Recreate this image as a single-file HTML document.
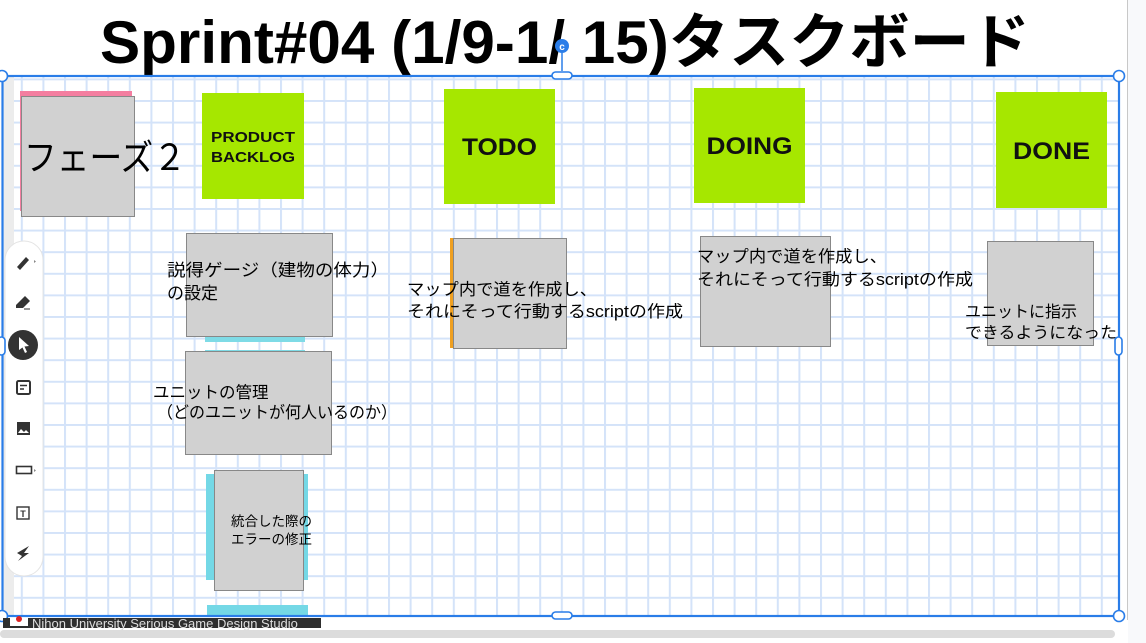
<!DOCTYPE html>
<html><head><meta charset="utf-8"><style>
html,body{margin:0;padding:0;background:#fff;overflow:hidden}
svg{display:block}
text{font-family:"Liberation Sans","Noto Sans CJK JP",sans-serif}
</style></head><body>
<svg width="1146" height="643" viewBox="0 0 1146 643" xmlns="http://www.w3.org/2000/svg">
<defs>
<pattern id="g" width="21.6" height="21.6" patternUnits="userSpaceOnUse" x="20.8" y="13.6">
<rect width="21.6" height="21.6" fill="#fff"/>
<path d="M1 0V21.6M0 1H21.6" stroke="#d4e3f9" stroke-width="2"/>
</pattern>
</defs>
<rect width="1146" height="643" fill="#fff"/>
<rect x="1128" y="0" width="18" height="643" fill="#f8f9fb"/>
<line x1="1127.5" y1="0" x2="1127.5" y2="620" stroke="#c8c8c8"/>
<rect x="2" y="76" width="1117" height="540" fill="url(#g)"/>
<rect x="3" y="77" width="11" height="538" fill="#ececec"/>
<text x="100" y="63" font-size="60" font-weight="bold" textLength="930" lengthAdjust="spacingAndGlyphs" fill="#000">Sprint#04 (1/9-1/ 15)タスクボード</text>
<rect x="20" y="91" width="112" height="120" fill="#f47ea0"/>
<rect x="21.5" y="96.5" width="113" height="120" fill="#d1d1d1" stroke="#888"/>
<text x="24" y="170" font-size="36" textLength="162" lengthAdjust="spacingAndGlyphs" fill="#000">フェーズ２</text>
<g font-weight="bold" fill="#111" text-anchor="middle">
<rect x="202" y="93" width="102" height="106" fill="#a6e700"/>
<text x="253" y="142" font-size="15" textLength="84" lengthAdjust="spacingAndGlyphs">PRODUCT</text>
<text x="253" y="162" font-size="15" textLength="84" lengthAdjust="spacingAndGlyphs">BACKLOG</text>
<rect x="444" y="89" width="111" height="115" fill="#a6e700"/>
<text x="499.5" y="155" font-size="24" textLength="75" lengthAdjust="spacingAndGlyphs">TODO</text>
<rect x="694" y="88" width="111" height="115" fill="#a6e700"/>
<text x="749.5" y="154" font-size="24" textLength="86" lengthAdjust="spacingAndGlyphs">DOING</text>
<rect x="996" y="92" width="111" height="116" fill="#a6e700"/>
<text x="1051.5" y="159" font-size="24" textLength="77" lengthAdjust="spacingAndGlyphs">DONE</text>
</g>
<rect x="205" y="333" width="100" height="9" fill="#7fdbe6"/>
<rect x="186.5" y="233.5" width="146" height="103" fill="#d1d1d1" stroke="#888"/>
<text x="167" y="276" font-size="17" textLength="222" lengthAdjust="spacingAndGlyphs">説得ゲージ（建物の体力）</text>
<text x="167" y="299" font-size="17">の設定</text>
<rect x="205" y="350" width="100" height="104" fill="#7fdbe6"/>
<rect x="185.5" y="351.5" width="146" height="103" fill="#d1d1d1" stroke="#888"/>
<text x="153" y="398" font-size="16.5">ユニットの管理</text>
<text x="157" y="418" font-size="16.5" textLength="240" lengthAdjust="spacingAndGlyphs">（どのユニットが何人いるのか）</text>
<rect x="206" y="474" width="102" height="106" fill="#74d8e6"/>
<rect x="214.5" y="470.5" width="89" height="120" fill="#d1d1d1" stroke="#888"/>
<text x="231" y="526" font-size="13.5">統合した際の</text>
<text x="231" y="544" font-size="13.5">エラーの修正</text>
<rect x="207" y="605" width="101" height="11" fill="#74d8e6"/>
<rect x="450" y="238" width="4" height="110" fill="#f0a020"/>
<rect x="453.5" y="238.5" width="113" height="110" fill="#d1d1d1" stroke="#888"/>
<text x="407" y="295" font-size="16.5" textLength="190" lengthAdjust="spacingAndGlyphs">マップ内で道を作成し、</text>
<text x="407" y="317" font-size="16.5" textLength="276" lengthAdjust="spacingAndGlyphs">それにそって行動するscriptの作成</text>
<rect x="700.5" y="236.5" width="130" height="110" fill="#d1d1d1" stroke="#888"/>
<text x="697" y="262" font-size="16.5" textLength="190" lengthAdjust="spacingAndGlyphs">マップ内で道を作成し、</text>
<text x="697" y="285" font-size="16.5" textLength="276" lengthAdjust="spacingAndGlyphs">それにそって行動するscriptの作成</text>
<rect x="987.5" y="241.5" width="106" height="104" fill="#d1d1d1" stroke="#888"/>
<text x="965" y="317" font-size="16">ユニットに指示</text>
<text x="965" y="338" font-size="16" textLength="152" lengthAdjust="spacingAndGlyphs">できるようになった</text>
<rect x="5" y="241" width="38" height="335" rx="19" fill="#fff" stroke="#e4e4e4"/>
<g fill="#333" stroke="#333">
<path d="M17 267 L26 257 L29 260 L20 270 Z" stroke="none"/><path d="M34 260 l2 1.5 l-2 1.5z" stroke="none" fill="#888"/>
<path d="M16 305 L25 296 L30 301 L23 308 L16 308 Z" stroke="none"/><line x1="24" y1="309" x2="30" y2="309" stroke-width="1"/>
<circle cx="23" cy="345" r="15" stroke="none" fill="#333"/>
<path d="M19 337 L29 346 L24.5 346.5 L27 352 L25 353 L22.5 347.5 L19 350 Z" fill="#fff" stroke="none"/>
<rect x="17" y="381" width="13" height="13" rx="1.5" fill="none" stroke-width="2"/><line x1="20" y1="385.5" x2="27" y2="385.5" stroke-width="1.5"/><line x1="20" y1="389" x2="24" y2="389" stroke-width="1.5"/>
<rect x="17" y="422" width="13" height="13" stroke="none"/><path d="M18 433 l3 -4 l3 3 l2 -2 l3 3z" fill="#fff" stroke="none"/>
<rect x="16.5" y="466.5" width="15" height="7" fill="none" stroke-width="1.6"/><path d="M34 469 l2 1.5 l-2 1.5z" stroke="none" fill="#888"/>
<rect x="17" y="507" width="12" height="12" fill="none" stroke-width="1.4"/><text x="23" y="517" font-size="9" font-weight="bold" text-anchor="middle" stroke="none">T</text>
<path d="M17 553 L29 546 L24 553 L29 553 L18 561 L22 556 Z" stroke="none"/>
</g>
<rect x="2.5" y="76" width="1116.5" height="540" fill="none" stroke="#2a7de8" stroke-width="2.2"/>
<line x1="562" y1="53" x2="562" y2="71" stroke="#2a7de8" stroke-width="1.5"/>
<circle cx="562" cy="46" r="7" fill="#2a7de8"/>
<text x="562" y="50" font-size="10" font-weight="bold" fill="#fff" text-anchor="middle">c</text>
<g fill="#fff" stroke="#2a7de8" stroke-width="1.6">
<circle cx="2" cy="76" r="5.5"/><circle cx="1119" cy="76" r="5.5"/>
<circle cx="2" cy="616" r="5.5"/><circle cx="1119" cy="616" r="5.5"/>
<rect x="552" y="72" width="20" height="7" rx="3.5"/><rect x="552" y="612" width="20" height="7" rx="3.5"/>
<rect x="-2" y="337" width="7" height="18" rx="3.5"/><rect x="1115" y="337" width="7" height="18" rx="3.5"/>
</g>
<rect x="3" y="618" width="318" height="10" fill="#2e2e2e"/>
<rect x="10" y="618" width="18" height="8" fill="#fff"/><circle cx="19" cy="619" r="3" fill="#d22"/>
<text x="32" y="628" font-size="13" fill="#ddd">Nihon University Serious Game Design Studio</text>
<rect x="0" y="630" width="1115" height="8" rx="4" fill="#dcdcdc"/>
</svg>
</body></html>
